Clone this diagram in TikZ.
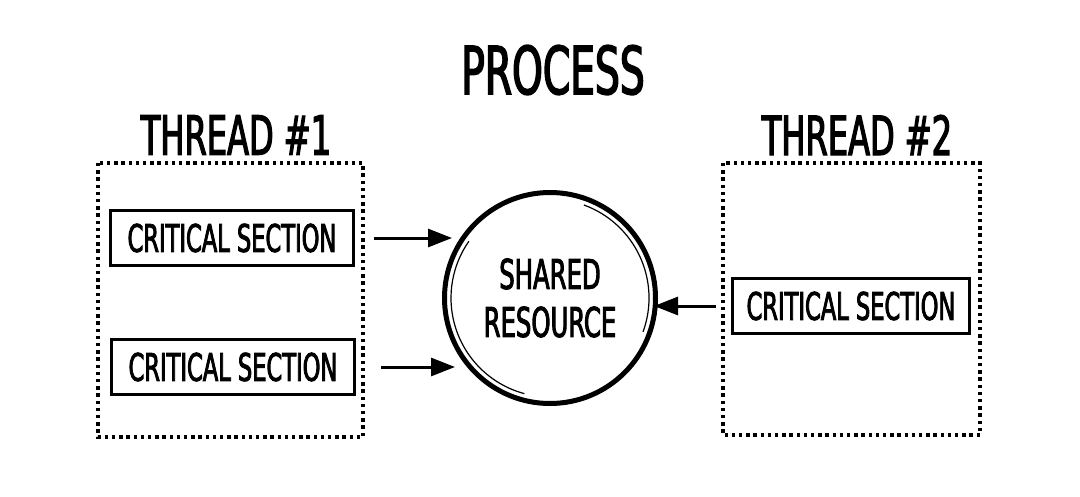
\documentclass[tikz,border=0pt]{standalone}
\usepackage{fontspec}
\usepackage{xcolor}
\usepackage{tikz}
\usetikzlibrary{arrows.meta}
\newfontfamily\handfont[FakeStretch=0.66,FakeBold=2.2]{DejaVu Sans Condensed}

\begin{document}
\begin{tikzpicture}[x=1pt,y=-1pt,
	csbox/.style={draw, line width=3.4pt, minimum width=243pt, minimum height=55pt, inner sep=0pt,
		font=\handfont\fontsize{38}{38}\selectfont},
	thbox/.style={draw, line width=3.4pt, dash pattern=on 3.4pt off 3.8pt},
	flow/.style={-{Triangle[length=24pt,width=18pt]}, line width=3pt},
	title/.style={font=\handfont\fontsize{54}{54}\selectfont}]
			% 定义边界
			\useasboundingbox[fill=white] (0,0) rectangle (1080,496);
			% 标题
			\node[font=\handfont\fontsize{66}{66}\selectfont] (proc) at (553,70) {PROCESS};
			\node[title] (tA) at (236,135) {THREAD \#1};
			\node[title] (tB) at (857,135) {THREAD \#2};
			% 划虚线方形
			\draw[thbox] (98,163) rectangle (363,437);
			\draw[thbox] (723,163) rectangle (980,435);
			% 临界区
			\node[csbox] (csA) at (232,238) {CRITICAL SECTION};
			\node[csbox] (csB) at (233,367) {CRITICAL SECTION};
			\node[csbox, minimum width=237pt] (csC) at (851,306) {CRITICAL SECTION};
			% 划圆
			\node[circle, draw, line width=5pt, minimum size=211pt, align=center,
				font=\handfont\fontsize{41}{48}\selectfont] (res) at (550,298) {SHARED\\RESOURCE};
			\draw[line width=1.2pt] (res.center) ++(105:99) arc (105:215:99);
			\draw[line width=1.2pt] (res.center) ++(290:99) arc (290:380:99);
			% 划箭头
			\draw[flow, shorten <=19pt, shorten >=-10pt] (csA.east) -- (csA.east -| res.west);
			\draw[flow, shorten <=25pt, shorten >=-13pt] (csB.east) -- (csB.east -| res.west);
			\draw[flow, shorten <=15pt, shorten >=-4pt] (csC.west) -- (csC.west -| res.east);
		\end{tikzpicture}
\end{document}
